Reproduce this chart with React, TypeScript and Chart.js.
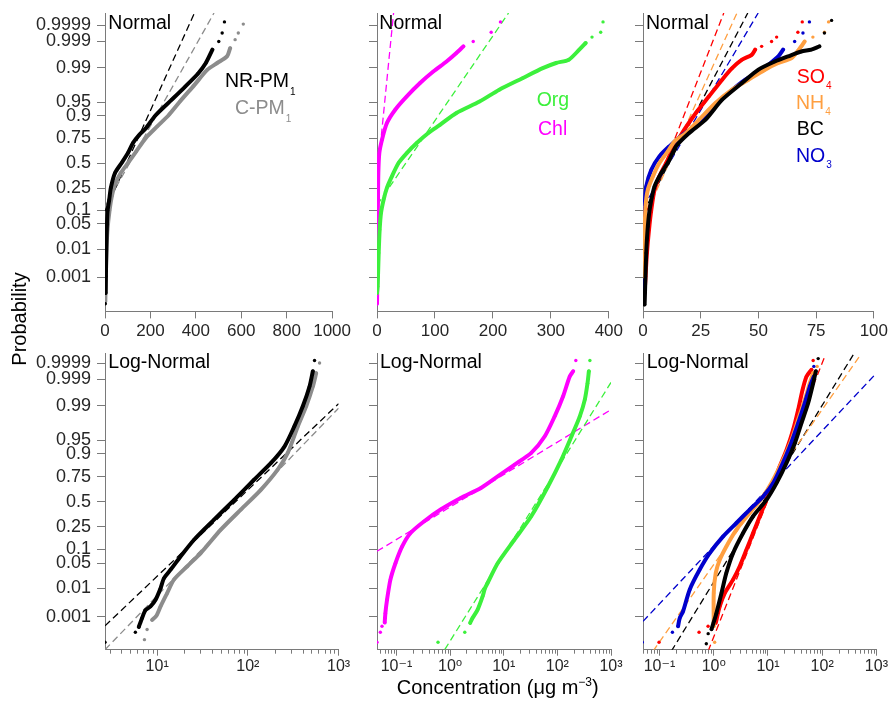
import React, { useEffect, useRef } from 'react';
import { Chart, registerables } from 'chart.js';

Chart.register(...registerables);

const FONT = "'Liberation Sans', Arial, Helvetica, 'DejaVu Sans', sans-serif";
const AXIS = '#7a7a7a';
const TXT = '#262626';

const C_BLACK = '#000000';
const C_GRAY = '#8c8c8c';
const C_GREEN = '#3cf03c';
const C_MAGENTA = '#ff00ff';
const C_RED = '#ff0000';
const C_ORANGE = '#ff9f40';
const C_BLUE = '#0000cc';

// ---------- probability axis (normal score positions of the labels) ----------
const probTickLabels = ['0.001', '0.01', '0.05', '0.1', '0.25', '0.5', '0.75', '0.9', '0.95', '0.99', '0.999', '0.9999'];
const probTickScore = [-3.09, -2.326, -1.645, -1.2816, -0.6745, 0, 0.6745, 1.2816, 1.645, 2.576, 3.291, 3.719];

// ---------- x-axis ticks ----------
const pm1NormTicks = [0, 200, 400, 600, 800, 1000];
const orgNormTicks = [0, 100, 200, 300, 400];
const ionNormTicks = [0, 25, 50, 75, 100];
const pm1LogTicks = [10, 100, 1000];
const orgLogTicks = [0.1, 1, 10, 100, 1000];
const ionLogTicks = [0.1, 1, 10, 100, 1000];

// ---------- Normal panels (x = concentration, z = normal score) ----------
const nrpmNormX = [1.4, null, 3, 4, 6, 8.6, 11.4, 18.6, 25.7, 44, 73, 101, 123, 151, 180, 223, 294, 351, 409, 444, 473, null, 501, null, 516, null, 526];
const nrpmNormZ = [-3.80, null, -3.51, -3.06, -2.32, -1.65, -1.28, -0.99, -0.67, -0.27, 0, 0.27, 0.54, 0.76, 0.94, 1.29, 1.71, 2.05, 2.41, 2.70, 3.06, null, 3.28, null, 3.51, null, 3.81];
const cpmNormX = [1.4, 3, 6, 11, 20, 30, 44, 69, 101, 137, 180, 230, 280, 330, 394, 451, 494, 537, 551, null, 573, null, 587, null, 609];
const cpmNormZ = [-3.73, -3.15, -2.43, -1.80, -1.28, -0.90, -0.58, -0.27, 0, 0.31, 0.68, 0.99, 1.29, 1.66, 2.11, 2.52, 2.70, 2.88, 3.10, null, 3.33, null, 3.51, null, 3.75];
const nrpmNormFitX = [0, 394];
const nrpmNormFitZ = [-1.30, 4.05];
const cpmNormFitX = [0, 480];
const cpmNormFitZ = [-1.18, 4.05];

const orgNormX = [0, 1.1, 1.7, 2.9, 4.6, 6.9, 11.4, 17.1, 25.7, 37.1, 51.4, 68.6, 88.6, 108.6, 137, 177, 211, 251, 286, 309, 331, 349, 360, null, 371, null, 386, null, 390];
const orgNormZ = [-3.51, -3.33, -3.06, -2.43, -1.80, -1.35, -0.99, -0.67, -0.36, 0, 0.27, 0.54, 0.81, 1.03, 1.35, 1.66, 1.98, 2.29, 2.56, 2.70, 2.79, 3.06, 3.24, null, 3.40, null, 3.53, null, 3.81];
const chlNormX = [0, 0.6, 1.1, 1.7, 2.3, 4, 8.6, 17.1, 31.4, 51.4, 74.3, 97.1, 120, 137, 149, null, 166, null, 197, null, 213];
const chlNormZ = [-3.80, -3.06, -1.89, -0.99, -0.27, 0.27, 0.63, 1.08, 1.44, 1.80, 2.16, 2.47, 2.74, 2.97, 3.15, null, 3.28, null, 3.53, null, 3.81];
const orgNormFitX = [0, 227];
const orgNormFitZ = [-1.14, 4.05];
const chlNormFitX = [0, 28.6];
const chlNormFitZ = [-0.44, 4.05];

const so4NormX = [0, null, 0.7, 1.1, 1.7, 2.6, 3.6, 5, 7.1, 10, 13.6, 17.9, 22.9, 28.6, 34.3, 38.6, 42.9, 47.1, 48.6, null, 51.4, null, 55.7, null, 57.9, null, 67.1, null, 69];
const so4NormZ = [-3.80, null, -3.51, -3.06, -2.43, -1.80, -1.26, -0.72, -0.36, 0, 0.45, 0.90, 1.35, 1.80, 2.25, 2.56, 2.79, 2.92, 3.06, null, 3.15, null, 3.28, null, 3.40, null, 3.53, null, 3.81];
const nh4NormX = [0.3, null, 0.4, 0.7, 1.1, 2.1, 4.3, 7.1, 10.7, 13.6, 18.6, 24.3, 31.4, 38.6, 45.7, 52.9, 58.6, 64.3, 68.6, 70, null, 73.6, null, 78.6, null, 80.4];
const nh4NormZ = [-3.80, null, -3.06, -1.89, -1.17, -0.72, -0.36, 0, 0.31, 0.58, 0.81, 1.17, 1.62, 1.98, 2.25, 2.52, 2.70, 2.83, 3.15, 3.28, null, 3.40, null, 3.53, null, 3.81];
const bcNormX = [0.7, 0.9, 1.4, 2.1, 3.1, 5, 7.9, 10.7, 14.3, 20, 27.1, 34.3, 42.9, 50, 57.1, 62.9, 68.6, 72.9, 76.4, null, 78.6, null, 81.7];
const bcNormZ = [-3.82, -3.42, -2.43, -1.71, -1.17, -0.63, -0.27, 0, 0.45, 0.81, 1.17, 1.71, 2.16, 2.52, 2.74, 2.88, 3.01, 3.06, 3.15, null, 3.51, null, 3.85];
const no3NormX = [0, 0, 0.3, 0.7, 1.4, 3.6, 7.1, 11.4, 16.4, 22.9, 30, 37.1, 44.3, 51.4, 58.6, 60.7, null, 65.7, null, 69.3, null, 72.1];
const no3NormZ = [-3.51, -2.79, -1.89, -1.17, -0.63, -0.18, 0.18, 0.45, 0.72, 1.03, 1.48, 1.89, 2.25, 2.52, 2.88, 3.06, null, 3.28, null, 3.51, null, 3.81];
const so4NormFitX = [0, 35];
const so4NormFitZ = [-1.55, 4.05];
const nh4NormFitX = [0, 40.7];
const nh4NormFitZ = [-1.55, 4.05];
const bcNormFitX = [0, 45.4];
const bcNormFitZ = [-1.35, 4.05];
const no3NormFitX = [0, 49.9];
const no3NormFitZ = [-1.2, 4.05];

// ---------- Log-Normal panels ----------
const nrpmLogX = [2.66, null, 5.75, null, 6.27, 6.82, 7.43, 8.44, 9.6, 10.9, 11.9, 14.1, 18.1, 25.5, 42.4, 70.6, 117, 180, 253, 325, 403, 478, 520, null, 543];
const nrpmLogZ = [-3.77, null, -3.50, null, -3.36, -3.12, -2.91, -2.81, -2.63, -2.32, -2.05, -1.82, -1.47, -1.02, -0.48, 0.05, 0.59, 1.04, 1.48, 2.02, 2.56, 3.09, 3.50, null, 3.79];
const cpmLogX = [7.24, null, 7.74, null, 8.8, 9.8, 10.9, 12.9, 15.3, 21.5, 30.2, 50.3, 83.7, 139, 213, 275, 355, 439, 520, 566, null, 617];
const cpmLogZ = [-3.70, null, -3.43, null, -3.17, -3.06, -2.81, -2.45, -2.09, -1.73, -1.38, -0.75, -0.21, 0.32, 0.86, 1.31, 2.02, 2.56, 3.09, 3.45, null, 3.72];
const nrpmLogFitX = [2.66, 1000];
const nrpmLogFitZ = [-3.33, 2.63];
const cpmLogFitX = [2.66, 1000];
const cpmLogFitZ = [-3.97, 2.51];

const chlLogX = [0.0434, null, 0.0501, null, 0.0538, null, 0.0604, 0.0622, 0.0668, 0.0772, 0.0958, 0.128, 0.183, 0.325, 0.668, 1.58, 3.76, 7.72, 15.8, 32.6, 57.9, 89.1, 128, 170, 197, null, 221];
const chlLogZ = [-3.77, null, -3.50, null, -3.34, null, -3.24, -2.99, -2.63, -2.09, -1.65, -1.20, -0.84, -0.53, -0.21, 0.10, 0.37, 0.68, 0.99, 1.31, 1.75, 2.29, 2.83, 3.36, 3.50, null, 3.79];
const orgLogX = [0.596, null, 1.88, null, 2.37, 2.62, 3.25, 4.04, 4.47, 5.01, 7.72, 15.8, 32.6, 66.8, 119, 183, 262, 325, 365, 387, null, 404];
const orgLogZ = [-3.77, null, -3.50, null, -3.25, -3.12, -2.90, -2.54, -2.32, -2.18, -1.65, -1.02, -0.39, 0.41, 1.13, 1.75, 2.29, 2.74, 3.18, 3.50, null, 3.79];
const orgLogFitX = [0.794, 1000];
const orgLogFitZ = [-3.97, 3.20];
const chlLogFitX = [0.0434, 1000];
const chlLogFitZ = [-1.33, 2.47];

const so4LogX = [0.098, null, 0.536, null, 0.786, null, 1.09, 1.29, 1.6, 2.27, 3.02, 4.01, 5.32, 7.07, 9.38, 12.5, 16.5, 22, 29.1, 36.1, 43.4, 51.4, 63.6, null, 68.2];
const so4LogZ = [-3.77, null, -3.50, null, -3.34, null, -3.25, -2.81, -2.45, -2.09, -1.73, -1.29, -0.84, -0.39, 0.05, 0.50, 0.95, 1.39, 1.93, 2.47, 3.00, 3.36, 3.54, null, 3.79];
const nh4LogX = [1.04, null, 1.0, 1.0, 1.09, 1.29, 1.71, 2.62, 4.62, 8.15, 12.5, 19.1, 27.2, 36.1, 47.9, 59.2, 68.2, null, 80.9];
const nh4LogZ = [-3.77, null, -3.34, -2.45, -1.91, -1.56, -1.20, -0.75, -0.30, 0.14, 0.59, 1.13, 1.66, 2.20, 2.74, 3.18, 3.45, null, 3.63];
const bcLogX = [0.73, null, 0.79, null, 0.91, 0.99, 1.12, 1.39, 1.71, 2.27, 3.48, 5.32, 9.38, 14.4, 22, 31.3, 41.5, 55.2, 68.2, 76.4, null, 84.4];
const bcLogZ = [-3.81, null, -3.54, null, -3.42, -3.25, -2.99, -2.45, -1.91, -1.38, -0.84, -0.39, 0.05, 0.50, 1.04, 1.57, 2.11, 2.65, 3.18, 3.50, null, 3.84];
const no3LogX = [0.048, null, 0.173, null, 0.22, 0.236, 0.272, 0.36, 0.552, 0.844, 1.49, 2.62, 4.62, 8.15, 12.5, 17.7, 25.3, 36.1, 47.9, 59.2, 70.2, null, 70.2];
const no3LogZ = [-3.77, null, -3.50, null, -3.34, -3.12, -2.94, -2.36, -1.82, -1.38, -0.93, -0.57, -0.21, 0.14, 0.50, 0.95, 1.48, 2.11, 2.65, 3.09, 3.36, null, 3.63];
const so4LogFitX = [0.786, 112];
const so4LogFitZ = [-4.01, 3.90];
const nh4LogFitX = [0.076, 510];
const nh4LogFitZ = [-4.01, 3.94];
const bcLogFitX = [0.165, 373];
const bcLogFitZ = [-4.01, 3.94];
const no3LogFitX = [0.0496, 1000];
const no3LogFitZ = [-3.21, 3.45];

// ---------- layout (pixels) ----------
const PAD_L = 100;
const PAD_R = 15;
const PAD_T = 20;
const PAD_B = 40;
const COLS = [
  { left: 104.7, right: 338.3 },
  { left: 376.7, right: 610.7 },
  { left: 643.3, right: 876.7 },
];
const ROWS = [
  { top: 13.3, bottom: 311.7, zMin: -4.005, zMax: 4.05 },
  { top: 353.3, bottom: 650, zMin: -3.97, zMax: 3.99 },
];

type Series = { x: (number | null)[]; z: (number | null)[]; color: string; fit?: boolean };

function curve(x: (number | null)[], z: (number | null)[], color: string): Series {
  return { x, z, color };
}
function fit(x: (number | null)[], z: (number | null)[], color: string): Series {
  return { x, z, color, fit: true };
}

function toDataset(s: Series) {
  const data = s.x.map((v, i) => ({ x: v, y: s.z[i] }));
  if (s.fit) {
    return {
      data,
      showLine: true,
      borderColor: s.color,
      borderWidth: 1.3,
      borderDash: [7, 4],
      pointRadius: 0,
      tension: 0,
    };
  }
  return {
    data,
    showLine: true,
    borderColor: s.color,
    backgroundColor: s.color,
    borderWidth: 4,
    borderJoinStyle: 'round',
    borderCapStyle: 'round',
    pointRadius: 1.7,
    pointBorderWidth: 0,
    tension: 0.25,
  };
}

const SUP: Record<string, string> = { '-': '\u207B', '0': '\u2070', '1': '\u00B9', '2': '\u00B2', '3': '\u00B3' };
function powLabel(v: number) {
  const e = Math.round(Math.log10(v));
  return '10' + String(e).split('').map((c) => SUP[c] || c).join('');
}

function minorValues(lo: number, hi: number) {
  const out: number[] = [];
  for (let d = Math.floor(Math.log10(lo)); d <= Math.ceil(Math.log10(hi)); d++) {
    for (let m = 2; m <= 9; m++) {
      const v = m * Math.pow(10, d);
      if (v >= lo && v <= hi) out.push(v);
    }
  }
  return out;
}

const minorTickPlugin = {
  id: 'minorTicks',
  afterDraw(chart: any, _args: any, opts: any) {
    const vals: number[] | undefined = opts && opts.values;
    if (!vals || !vals.length) return;
    const s = chart.scales.x;
    const ctx = chart.ctx;
    ctx.save();
    ctx.strokeStyle = AXIS;
    ctx.lineWidth = 1;
    ctx.beginPath();
    for (const v of vals) {
      const px = Math.round(s.getPixelForValue(v)) + 0.5;
      ctx.moveTo(px, s.top);
      ctx.lineTo(px, s.top + 4);
    }
    ctx.stroke();
    ctx.restore();
  },
};

type PanelSpec = {
  col: number;
  row: number;
  log: boolean;
  xMin: number;
  xMax: number;
  xTicks: number[];
  showYLabels: boolean;
  series: Series[];
};

function Panel({ spec }: { spec: PanelSpec }) {
  const ref = useRef<HTMLCanvasElement>(null);
  const col = COLS[spec.col];
  const row = ROWS[spec.row];
  const areaW = col.right - col.left;
  const areaH = row.bottom - row.top;
  const w = Math.round(PAD_L + areaW + PAD_R);
  const h = Math.round(PAD_T + areaH + PAD_B);
  const left = col.left - PAD_L;
  const top = row.top - PAD_T;

  useEffect(() => {
    const canvas = ref.current;
    if (!canvas) return;
    const chart = new Chart(canvas, {
      type: 'scatter',
      data: { datasets: spec.series.map(toDataset) as any },
      plugins: [minorTickPlugin as any],
      options: {
        responsive: false,
        animation: false,
        devicePixelRatio: 1,
        events: [],
        layout: { padding: { left: 0, right: w - PAD_L - areaW, top: PAD_T, bottom: 0 } },
        plugins: {
          legend: { display: false },
          tooltip: { enabled: false },
          minorTicks: { values: spec.log ? minorValues(spec.xMin, spec.xMax) : [] },
        } as any,
        scales: {
          x: {
            type: spec.log ? 'logarithmic' : 'linear',
            min: spec.xMin,
            max: spec.xMax,
            position: 'bottom',
            afterBuildTicks: (s: any) => {
              s.ticks = spec.xTicks.map((v) => ({ value: v }));
            },
            afterFit: (s: any) => {
              s.height = h - PAD_T - areaH;
            },
            ticks: {
              autoSkip: false,
              maxRotation: 0,
              minRotation: 0,
              padding: spec.log ? 1 : 3,
              color: TXT,
              font: { family: FONT, size: spec.log ? 16 : 17 },
              callback: (v: any) => (spec.log ? powLabel(Number(v)) : String(v)),
            },
            grid: { drawOnChartArea: false, drawTicks: true, tickLength: spec.log ? 6 : 7, color: AXIS, lineWidth: 1 },
            border: { display: true, color: AXIS, width: 1 },
          } as any,
          y: {
            type: 'linear',
            min: row.zMin,
            max: row.zMax,
            afterBuildTicks: (s: any) => {
              s.ticks = probTickScore.map((v) => ({ value: v }));
            },
            afterFit: (s: any) => {
              s.width = PAD_L;
            },
            ticks: {
              autoSkip: false,
              padding: 6,
              color: TXT,
              font: { family: FONT, size: 18 },
              callback: (_v: any, i: number) => (spec.showYLabels ? probTickLabels[i] : ''),
            },
            grid: { drawOnChartArea: false, drawTicks: true, tickLength: 8, color: AXIS, lineWidth: 1 },
            border: { display: true, color: AXIS, width: 1 },
          } as any,
        },
      },
    });
    return () => chart.destroy();
  }, []);

  return (
    <canvas
      ref={ref}
      width={w}
      height={h}
      style={{ position: 'absolute', left, top, width: w, height: h }}
    />
  );
}

const panels: PanelSpec[] = [
  {
    col: 0, row: 0, log: false, xMin: 0, xMax: 1000, xTicks: pm1NormTicks, showYLabels: true,
    series: [
      curve(nrpmNormX, nrpmNormZ, C_BLACK),
      curve(cpmNormX, cpmNormZ, C_GRAY),
      fit(nrpmNormFitX, nrpmNormFitZ, C_BLACK),
      fit(cpmNormFitX, cpmNormFitZ, C_GRAY),
    ],
  },
  {
    col: 1, row: 0, log: false, xMin: 0, xMax: 400, xTicks: orgNormTicks, showYLabels: false,
    series: [
      curve(orgNormX, orgNormZ, C_GREEN),
      curve(chlNormX, chlNormZ, C_MAGENTA),
      fit(orgNormFitX, orgNormFitZ, C_GREEN),
      fit(chlNormFitX, chlNormFitZ, C_MAGENTA),
    ],
  },
  {
    col: 2, row: 0, log: false, xMin: 0, xMax: 100, xTicks: ionNormTicks, showYLabels: false,
    series: [
      curve(bcNormX, bcNormZ, C_BLACK),
      curve(nh4NormX, nh4NormZ, C_ORANGE),
      curve(no3NormX, no3NormZ, C_BLUE),
      curve(so4NormX, so4NormZ, C_RED),
      fit(so4NormFitX, so4NormFitZ, C_RED),
      fit(nh4NormFitX, nh4NormFitZ, C_ORANGE),
      fit(bcNormFitX, bcNormFitZ, C_BLACK),
      fit(no3NormFitX, no3NormFitZ, C_BLUE),
    ],
  },
  {
    col: 0, row: 1, log: true, xMin: 2.66, xMax: 1000, xTicks: pm1LogTicks, showYLabels: true,
    series: [
      curve(nrpmLogX, nrpmLogZ, C_BLACK),
      curve(cpmLogX, cpmLogZ, C_GRAY),
      fit(nrpmLogFitX, nrpmLogFitZ, C_BLACK),
      fit(cpmLogFitX, cpmLogFitZ, C_GRAY),
    ],
  },
  {
    col: 1, row: 1, log: true, xMin: 0.0434, xMax: 1000, xTicks: orgLogTicks, showYLabels: false,
    series: [
      curve(orgLogX, orgLogZ, C_GREEN),
      curve(chlLogX, chlLogZ, C_MAGENTA),
      fit(orgLogFitX, orgLogFitZ, C_GREEN),
      fit(chlLogFitX, chlLogFitZ, C_MAGENTA),
    ],
  },
  {
    col: 2, row: 1, log: true, xMin: 0.0496, xMax: 1000, xTicks: ionLogTicks, showYLabels: false,
    series: [
      curve(bcLogX, bcLogZ, C_BLACK),
      curve(no3LogX, no3LogZ, C_BLUE),
      curve(nh4LogX, nh4LogZ, C_ORANGE),
      curve(so4LogX, so4LogZ, C_RED),
      fit(so4LogFitX, so4LogFitZ, C_RED),
      fit(nh4LogFitX, nh4LogFitZ, C_ORANGE),
      fit(bcLogFitX, bcLogFitZ, C_BLACK),
      fit(no3LogFitX, no3LogFitZ, C_BLUE),
    ],
  },
];

function Label({ x, base, size = 19.5, color = '#000', main, sub, subSize = 10, subDrop = 6 }: {
  x: number; base: number; size?: number; color?: string; main: string; sub?: string; subSize?: number; subDrop?: number;
}) {
  return (
    <div
      style={{
        position: 'absolute',
        left: x,
        top: base - 0.8465 * size,
        fontFamily: FONT,
        fontSize: size,
        lineHeight: 1,
        color,
        whiteSpace: 'nowrap',
      }}
    >
      {main}
      {sub ? (
        <span style={{ fontSize: subSize, position: 'relative', top: subDrop, marginLeft: 1 }}>{sub}</span>
      ) : null}
    </div>
  );
}

export default function App() {
  return (
    <div
      style={{
        position: 'absolute',
        left: 0,
        top: 0,
        width: 893,
        height: 708,
        overflow: 'hidden',
        background: '#ffffff',
      }}
    >
      {panels.map((p, i) => (
        <Panel key={i} spec={p} />
      ))}

      <Label x={108.3} base={29.3} main="Normal" />
      <Label x={379.3} base={29.3} main="Normal" />
      <Label x={646} base={29.3} main="Normal" />
      <Label x={108.3} base={368.3} main="Log-Normal" />
      <Label x={380} base={368.3} main="Log-Normal" />
      <Label x={646.7} base={368.3} main="Log-Normal" />

      <Label x={225} base={87.3} main="NR-PM" sub="1" subDrop={8} />
      <Label x={235} base={115} color={C_GRAY} main="C-PM" sub="1" subDrop={8} />
      <Label x={536.7} base={107} color={C_GREEN} main="Org" />
      <Label x={538} base={136} color={C_MAGENTA} main="Chl" />
      <Label x={796.7} base={84} color={C_RED} main="SO" sub="4" />
      <Label x={796} base={110} color={C_ORANGE} main="NH" sub="4" />
      <Label x={796.7} base={136} color={C_BLACK} main="BC" />
      <Label x={796} base={163} color={C_BLUE} main="NO" sub="3" />

      <div
        style={{
          position: 'absolute',
          left: 396.7,
          top: 694.3 - 0.8465 * 20,
          fontFamily: FONT,
          fontSize: 20,
          lineHeight: 1,
          color: '#000',
          whiteSpace: 'nowrap',
        }}
      >
        Concentration (μg m<span style={{ fontSize: 12, position: 'relative', top: -8 }}>−3</span>)
      </div>

      <div
        style={{
          position: 'absolute',
          left: 18.7 - 70,
          top: 319 - 12,
          width: 140,
          height: 24,
          lineHeight: '24px',
          textAlign: 'center',
          fontFamily: FONT,
          fontSize: 20,
          color: '#000',
          whiteSpace: 'nowrap',
          transform: 'rotate(-90deg)',
          transformOrigin: '50% 50%',
        }}
      >
        Probability
      </div>
    </div>
  );
}
